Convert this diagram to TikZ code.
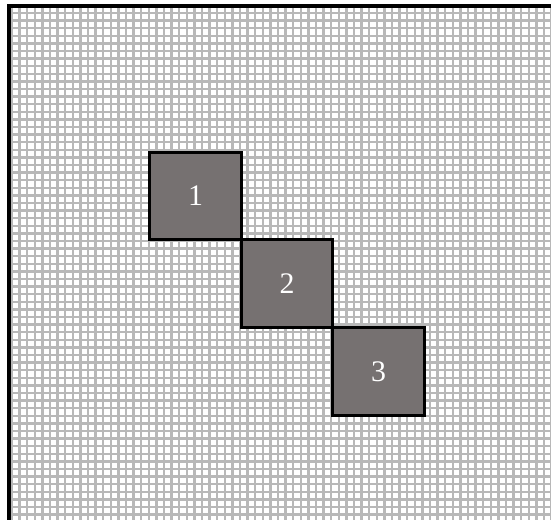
\documentclass[tikz,border=0pt]{standalone}
\usepackage{fontspec}
\setmainfont{Liberation Serif}
\usetikzlibrary{positioning}

\definecolor{cellgray}{RGB}{118,113,113}
\tikzset{
    gridline/.style={line width=1.3pt, color=black!28},
    cell/.style={draw=black, line width=1.7pt, fill=cellgray, text=white,
        minimum width=1.83cm, minimum height=1.76cm, inner sep=0pt, outer sep=0pt,
        font=\fontsize{17}{17}\selectfont},
}

\begin{document}
\begin{tikzpicture}[x=0.02cm, y=-0.02cm]

    % --- canvas ---
    \useasboundingbox (0,0) rectangle (551,520);
    \fill[white] (0,0) rectangle (551,520);

    % --- grid ---
    \foreach \i in {0,...,71} {
        \draw[gridline] ({12+7.6*\i},7) -- ({12+7.6*\i},520);
    }
    \foreach \j in {0,...,68} {
        \draw[gridline] (9,{13+7.6*\j}) -- (551,{13+7.6*\j});
    }

    % --- frame (left and top only) ---
    \draw[line width=2pt, black] (9,520) -- (9,6) -- (551,6);

    % --- blocks ---
    \node[cell] (b1) at (195.5,196) {1};
    \node[cell, below right=0pt and 0pt of b1] (b2) {2};
    \node[cell, below right=0pt and 0pt of b2] (b3) {3};

\end{tikzpicture}
\end{document}
